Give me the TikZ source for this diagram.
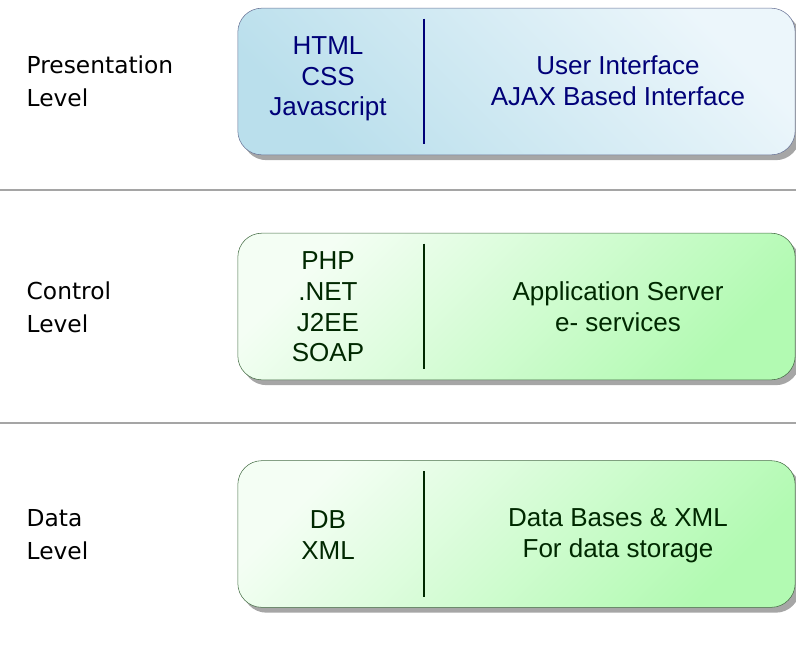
\documentclass[tikz,border=0pt]{standalone}
\usepackage{fontspec}
\setmainfont{Liberation Sans}
\newfontfamily\levelfont{DejaVu Sans}
\usetikzlibrary{positioning,calc,shadows}

\definecolor{bluelight}{RGB}{236,246,251}
\definecolor{bluedark}{RGB}{186,223,236}
\definecolor{blueedge}{RGB}{105,115,150}
\definecolor{bluetext}{RGB}{0,0,120}
\definecolor{greenlight}{RGB}{244,254,244}
\definecolor{greendark}{RGB}{178,250,178}
\definecolor{greenedge}{RGB}{70,110,70}
\definecolor{greentext}{RGB}{0,40,0}
\definecolor{ruleline}{RGB}{165,165,165}

\begin{document}
\begin{tikzpicture}[x=0.75pt,y=-0.75pt,
    levelbox/.style={shape=rectangle,rounded corners=18pt,
      minimum width=418pt,minimum height=110pt,
      drop shadow={shadow xshift=3.5pt,shadow yshift=-4pt,opacity=.7,fill=gray}},
    bluebox/.style={levelbox,draw=blueedge,shading=axis,
      top color=bluelight,bottom color=bluedark,shading angle=-45},
    greenbox/.style={levelbox,draw=greenedge,shading=axis,
      top color=greenlight,bottom color=greendark,shading angle=45},
    boxtext/.style={align=center,font=\fontsize{19.5}{23}\selectfont},
    levellabel/.style={anchor=west,align=left,
      font=\levelfont\fontsize{17.5}{24.75}\selectfont}
  ]
    \useasboundingbox (0,0) rectangle (796,644);

    % separating rules
    \draw[ruleline,line width=1pt] (0,190) -- (796,190);
    \draw[ruleline,line width=1pt] (0,423) -- (796,423);

    % boxes
    \node[bluebox]  (pres) at (516.5,81.5) {};
    \node[greenbox] (ctrl) at (516.5,306.5) {};
    \node[greenbox] (data) at (516.5,534) {};

    % dividers
    \draw[bluetext,line width=1.2pt] ([xshift=140pt,yshift=-8pt]pres.north west)
      -- ([xshift=140pt,yshift=8pt]pres.south west);
    \draw[greentext,line width=1.2pt] ([xshift=140pt,yshift=-8pt]ctrl.north west)
      -- ([xshift=140pt,yshift=8pt]ctrl.south west);
    \draw[greentext,line width=1.2pt] ([xshift=140pt,yshift=-8pt]data.north west)
      -- ([xshift=140pt,yshift=8pt]data.south west);

    % level names
    \node[levellabel] (presname) at (22,81) {Presentation\\Level};
    \node[levellabel] (ctrlname) at (22,307) {Control\\Level};
    \node[levellabel] (dataname) at (22,535) {Data\\Level};

    % box contents
    \node[boxtext,text=bluetext] (presleft) at (328,79) {HTML\\CSS\\Javascript};
    \node[boxtext,text=bluetext] (presright) at (618,81) {User Interface\\AJAX Based Interface};

    \node[boxtext,text=greentext] (ctrlleft) at (328,307) {PHP\\.NET\\J2EE\\SOAP};
    \node[boxtext,text=greentext] (ctrlright) at (618,307) {Application Server\\e- services};

    \node[boxtext,text=greentext] (dataleft) at (328,535) {DB\\XML};
    \node[boxtext,text=greentext] (dataright) at (618,536) {Data Bases \& XML\\For data storage};
\end{tikzpicture}
\end{document}
